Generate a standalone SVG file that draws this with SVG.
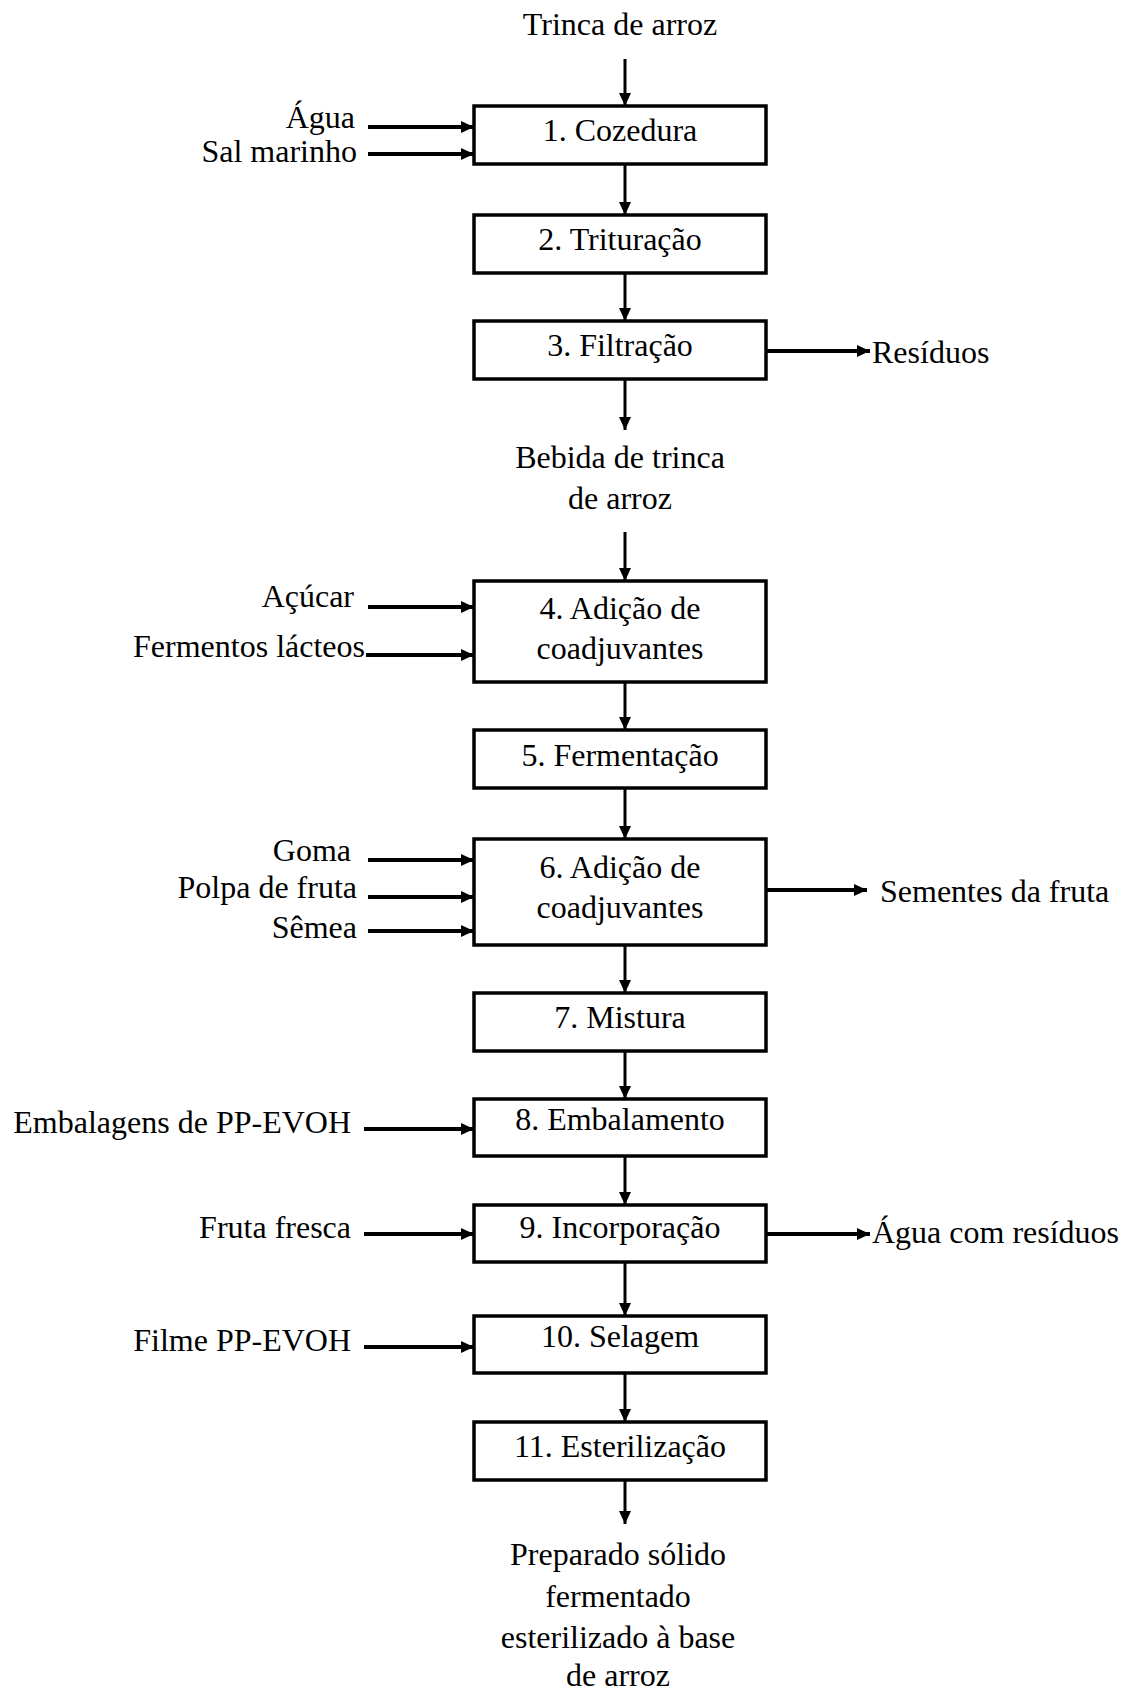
<svg xmlns="http://www.w3.org/2000/svg" width="1129" height="1695" viewBox="0 0 1129 1695">
<style>
text{font-family:"Liberation Serif","Times New Roman",serif;font-size:32px;fill:#000}
.c{text-anchor:middle}
.r{text-anchor:end}
.box{fill:#fff;stroke:#000;stroke-width:3.5}
.ln{stroke:#000;stroke-width:3;fill:none;marker-end:url(#ah)}
.in{stroke:#000;stroke-width:4;fill:none;marker-end:url(#ah)}
</style>
<defs>
<marker id="ah" markerUnits="userSpaceOnUse" markerWidth="14" markerHeight="14" refX="13" refY="7" orient="auto">
<path d="M0,1 L13,7 L0,13 z" fill="#000"/>
</marker>
</defs>
<rect width="1129" height="1695" fill="#fff"/>
<g id="connectors">
<line class="ln" x1="625" y1="59" x2="625" y2="106"/>
<line class="in" x1="368" y1="127" x2="474" y2="127"/>
<line class="in" x1="368" y1="154" x2="474" y2="154"/>
<line class="ln" x1="625" y1="164" x2="625" y2="215"/>
<line class="ln" x1="625" y1="273" x2="625" y2="321"/>
<line class="in" x1="766" y1="351" x2="870" y2="351"/>
<line class="ln" x1="625" y1="379" x2="625" y2="430"/>
<line class="ln" x1="625" y1="532" x2="625" y2="581"/>
<line class="in" x1="368" y1="607" x2="474" y2="607"/>
<line class="in" x1="366" y1="655" x2="474" y2="655"/>
<line class="ln" x1="625" y1="682" x2="625" y2="730"/>
<line class="ln" x1="625" y1="788" x2="625" y2="839"/>
<line class="in" x1="368" y1="860" x2="474" y2="860"/>
<line class="in" x1="368" y1="897" x2="474" y2="897"/>
<line class="in" x1="368" y1="931" x2="474" y2="931"/>
<line class="in" x1="766" y1="890" x2="867" y2="890"/>
<line class="ln" x1="625" y1="945" x2="625" y2="993"/>
<line class="ln" x1="625" y1="1051" x2="625" y2="1099"/>
<line class="in" x1="364" y1="1129" x2="474" y2="1129"/>
<line class="ln" x1="625" y1="1156" x2="625" y2="1205"/>
<line class="in" x1="364" y1="1234" x2="474" y2="1234"/>
<line class="in" x1="766" y1="1234" x2="870" y2="1234"/>
<line class="ln" x1="625" y1="1262" x2="625" y2="1316"/>
<line class="in" x1="364" y1="1347" x2="474" y2="1347"/>
<line class="ln" x1="625" y1="1373" x2="625" y2="1422"/>
<line class="ln" x1="625" y1="1480" x2="625" y2="1524"/>
</g>
<g id="labels">
<text class="c" x="620" y="35">Trinca de arroz</text>
<text class="r" x="355" y="128">Água</text>
<text class="r" x="357" y="162">Sal marinho</text>
<text x="872" y="363">Resíduos</text>
<text class="c" x="620" y="468">Bebida de trinca</text>
<text class="c" x="620" y="509">de arroz</text>
<text class="r" x="354" y="607">Açúcar</text>
<text class="r" x="365" y="657">Fermentos lácteos</text>
<text class="r" x="351" y="861">Goma</text>
<text class="r" x="357" y="898">Polpa de fruta</text>
<text class="r" x="357" y="938">Sêmea</text>
<text x="880" y="902">Sementes da fruta</text>
<text class="r" x="351" y="1133">Embalagens de PP-EVOH</text>
<text class="r" x="351" y="1238">Fruta fresca</text>
<text x="872" y="1243">Água com resíduos</text>
<text class="r" x="351" y="1351">Filme PP-EVOH</text>
<text class="c" x="618" y="1565">Preparado sólido</text>
<text class="c" x="618" y="1607">fermentado</text>
<text class="c" x="618" y="1648">esterilizado à base</text>
<text class="c" x="618" y="1686">de arroz</text>
</g>
<g id="n1"><rect class="box" x="474" y="106" width="292" height="58"/><text class="c" x="620" y="141">1. Cozedura</text></g>
<g id="n2"><rect class="box" x="474" y="215" width="292" height="58"/><text class="c" x="620" y="250">2. Trituração</text></g>
<g id="n3"><rect class="box" x="474" y="321" width="292" height="58"/><text class="c" x="620" y="356">3. Filtração</text></g>
<g id="n4"><rect class="box" x="474" y="581" width="292" height="101"/><text class="c" x="620" y="619">4. Adição de</text><text class="c" x="620" y="659">coadjuvantes</text></g>
<g id="n5"><rect class="box" x="474" y="730" width="292" height="58"/><text class="c" x="620" y="766">5. Fermentação</text></g>
<g id="n6"><rect class="box" x="474" y="839" width="292" height="106"/><text class="c" x="620" y="878">6. Adição de</text><text class="c" x="620" y="918">coadjuvantes</text></g>
<g id="n7"><rect class="box" x="474" y="993" width="292" height="58"/><text class="c" x="620" y="1028">7. Mistura</text></g>
<g id="n8"><rect class="box" x="474" y="1099" width="292" height="57"/><text class="c" x="620" y="1130">8. Embalamento</text></g>
<g id="n9"><rect class="box" x="474" y="1205" width="292" height="57"/><text class="c" x="620" y="1238">9. Incorporação</text></g>
<g id="n10"><rect class="box" x="474" y="1316" width="292" height="57"/><text class="c" x="620" y="1347">10. Selagem</text></g>
<g id="n11"><rect class="box" x="474" y="1422" width="292" height="58"/><text class="c" x="620" y="1457">11. Esterilização</text></g>
</svg>
